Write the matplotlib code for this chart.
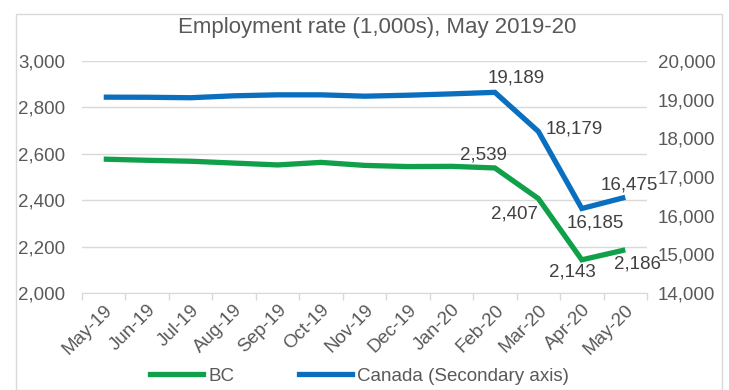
import matplotlib.pyplot as plt
from matplotlib.patches import Rectangle
from matplotlib.ticker import FuncFormatter

months = ["May-19", "Jun-19", "Jul-19", "Aug-19", "Sep-19", "Oct-19", "Nov-19",
          "Dec-19", "Jan-20", "Feb-20", "Mar-20", "Apr-20", "May-20"]
bc = [2577, 2572, 2568, 2560, 2552, 2563, 2550, 2545, 2546, 2539, 2407, 2143, 2186]
canada = [19065, 19062, 19050, 19100, 19125, 19125, 19090, 19115, 19150, 19189, 18179, 16185, 16475]

# labelled points: (index, x offset, y offset, ha, va) in points
bc_labels = [(9, -8, 3, "center", "bottom"), (10, 0, -5, "right", "top"),
             (11, -7, -3, "center", "top"), (12, 9, -4, "center", "top")]
ca_labels = [(9, 15, 4, "center", "bottom"), (10, 5, 2, "left", "center"),
             (11, 10, -4, "center", "top"), (12, 3, 3, "center", "bottom")]

green = "#11A04A"
blue = "#0A6FBE"
grid_c = "#D9D9D9"
txt = "#595959"
fs = 13.5

plt.rcParams["font.family"] = ["Liberation Sans", "DejaVu Sans"]

fig = plt.figure(figsize=(7.29, 3.9), dpi=100)
fig.patches.append(Rectangle((16 / 729, 0.0), 706 / 729, 1 - 14 / 390, transform=fig.transFigure,
                             fill=False, edgecolor=grid_c, linewidth=1))

ax = fig.add_axes([82 / 729, 1 - 293 / 390, 565 / 729, 232 / 390])
ax2 = ax.twinx()

x = list(range(len(months)))
ax.plot(x, bc, color=green, linewidth=3.8, solid_capstyle="butt", solid_joinstyle="miter")
ax2.plot(x, canada, color=blue, linewidth=3.8, solid_capstyle="butt", solid_joinstyle="miter")

ax.set_xlim(-0.5, len(months) - 0.5)
ax.set_ylim(2000, 3000)
ax2.set_ylim(14000, 20000)
ax.set_yticks(range(2000, 3001, 200))
ax2.set_yticks(range(14000, 20001, 1000))
fmt = FuncFormatter(lambda v, p: f"{int(v):,}")
ax.yaxis.set_major_formatter(fmt)
ax2.yaxis.set_major_formatter(fmt)

# tick marks sit between categories, labels under each category
ax.set_xticks([i - 0.5 for i in range(len(months) + 1)], minor=False)
ax.set_xticklabels([])
ax.set_xticks(x, minor=True)
ax.set_xticklabels(months, minor=True, rotation=45, ha="right", rotation_mode="anchor",
                   fontsize=fs, color=txt)
ax.tick_params(axis="x", which="major", length=5, color=grid_c, width=1)
ax.tick_params(axis="x", which="minor", length=0, pad=6)

ax.grid(axis="y", color=grid_c, linewidth=1)
ax.set_axisbelow(True)
for a in (ax, ax2):
    for s in ("top", "left", "right", "bottom"):
        a.spines[s].set_visible(False)
ax.spines["bottom"].set_visible(True)
ax.spines["bottom"].set_color(grid_c)
ax.tick_params(axis="y", length=0, labelsize=fs, labelcolor=txt, pad=12)
ax2.tick_params(axis="y", length=0, labelsize=fs, labelcolor=txt, pad=8)

for i, dx, dy, ha, va in bc_labels:
    ax.annotate(f"{bc[i]:,}", (i, bc[i]), xytext=(dx, dy), textcoords="offset points",
                ha=ha, va=va, fontsize=fs, color="#404040")
for i, dx, dy, ha, va in ca_labels:
    ax2.annotate(f"{canada[i]:,}", (i, canada[i]), xytext=(dx, dy), textcoords="offset points",
                 ha=ha, va=va, fontsize=fs, color="#404040")

fig.text(0.518, 1 - 28 / 390, "Employment rate (1,000s), May 2019-20", ha="center", va="center",
         fontsize=16, color=txt)

h1 = plt.Line2D([], [], color=green, linewidth=3.8)
h2 = plt.Line2D([], [], color=blue, linewidth=3.8)
fig.legend([h1, h2], ["BC", "Canada (Secondary axis)"], loc="center", ncol=2,
           bbox_to_anchor=(0.493, 1 - 376 / 390), frameon=False, fontsize=fs,
           labelcolor=txt, handlelength=2.85, handletextpad=0.25, columnspacing=3.45)

fig.savefig("out.png", dpi=100)
